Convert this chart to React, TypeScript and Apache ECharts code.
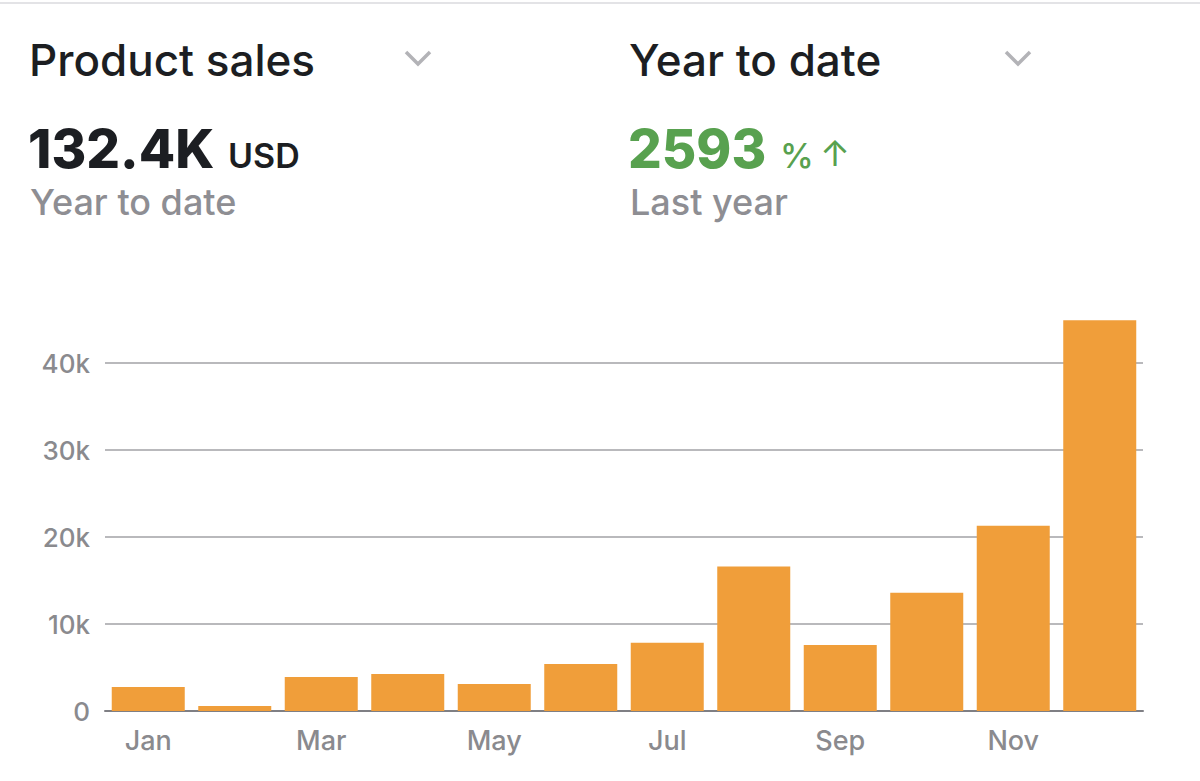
import React, { useEffect, useRef } from "react";
import * as echarts from "echarts";

const months = ["Jan", "Feb", "Mar", "Apr", "May", "Jun", "Jul", "Aug", "Sep", "Oct", "Nov", "Dec"];
const sales = [2750, 570, 3900, 4250, 3100, 5400, 7850, 16600, 7600, 13600, 21300, 44900];
const yTicks = [0, 10000, 20000, 30000, 40000];
const totalLabel = "132.4K";
const changeLabel = "2593";

const FONT = "Inter, 'Noto Sans', sans-serif";

export default function App() {
  const ref = useRef<HTMLDivElement>(null);
  useEffect(() => {
    if (!ref.current) return;
    const chart = echarts.init(ref.current, undefined, { renderer: "svg" });
    const mid = { verticalAlign: "middle" as const };
    chart.setOption({
      animation: false,
      backgroundColor: "#ffffff",
      textStyle: { fontFamily: FONT },
      grid: { left: 105, right: 57, top: 363, bottom: 70, containLabel: false },
      xAxis: {
        type: "category",
        data: months,
        axisTick: { show: false },
        axisLine: { show: true, lineStyle: { color: "#7f7f84", width: 2 } },
        axisLabel: { interval: 1, color: "#8a8a8e", fontSize: 27, fontWeight: 500, margin: 16, fontFamily: FONT },
      },
      yAxis: {
        type: "value",
        min: yTicks[0],
        max: yTicks[yTicks.length - 1],
        interval: 10000,
        axisLine: { show: false },
        axisTick: { show: false },
        splitLine: { show: true, lineStyle: { color: "#a2a2a6", width: 1.5 } },
        axisLabel: {
          color: "#8a8a8e",
          fontSize: 26,
          fontWeight: 500,
          margin: 15,
          fontFamily: FONT,
          formatter: (v: number) => (v === 0 ? "0" : v / 1000 + "k"),
        },
      },
      series: [
        {
          type: "bar",
          data: sales,
          clip: false,
          barCategoryGap: "15.6%",
          itemStyle: { color: "#f09e3a" },
        },
      ],
      graphic: [
        { type: "line", shape: { x1: 0, y1: 3, x2: 1200, y2: 3 }, style: { stroke: "#e3e3e6", lineWidth: 2 } },
        { type: "text", x: 29, y: 60, style: { text: "Product sales", font: `500 44px ${FONT}`, fill: "#1c1e22", ...mid } },
        { type: "polyline", shape: { points: [[406, 52], [418, 64], [430, 52]] }, style: { stroke: "#b3b3b7", lineWidth: 3.5, fill: null } },
        { type: "text", x: 629, y: 60, style: { text: "Year to date", font: `500 44px ${FONT}`, fill: "#1c1e22", ...mid } },
        { type: "polyline", shape: { points: [[1006, 52], [1018, 64], [1030, 52]] }, style: { stroke: "#b3b3b7", lineWidth: 3.5, fill: null } },
        { type: "text", x: 28, y: 149, style: { text: totalLabel, font: `800 53px ${FONT}`, fill: "#1c1e22", ...mid } },
        { type: "text", x: 228, y: 155, style: { text: "USD", font: `600 34px ${FONT}`, fill: "#1c1e22", ...mid } },
        { type: "text", x: 30, y: 202, style: { text: "Year to date", font: `500 36px ${FONT}`, fill: "#8e8e93", ...mid } },
        { type: "text", x: 628, y: 149, style: { text: changeLabel, font: `800 53px ${FONT}`, fill: "#58a14f", ...mid } },
        { type: "text", x: 780, y: 155, style: { text: "%", font: `500 34px ${FONT}`, fill: "#58a14f", ...mid } },
        { type: "text", x: 820, y: 153, style: { text: "↑", font: `400 36px ${FONT}`, fill: "#58a14f", ...mid } },
        { type: "text", x: 630, y: 202, style: { text: "Last year", font: `500 36px ${FONT}`, fill: "#8e8e93", ...mid } },
      ],
    });
    return () => chart.dispose();
  }, []);
  return (
    <div
      ref={ref}
      style={{ position: "fixed", left: 0, top: 0, width: 1200, height: 781, background: "#fff" }}
    />
  );
}
